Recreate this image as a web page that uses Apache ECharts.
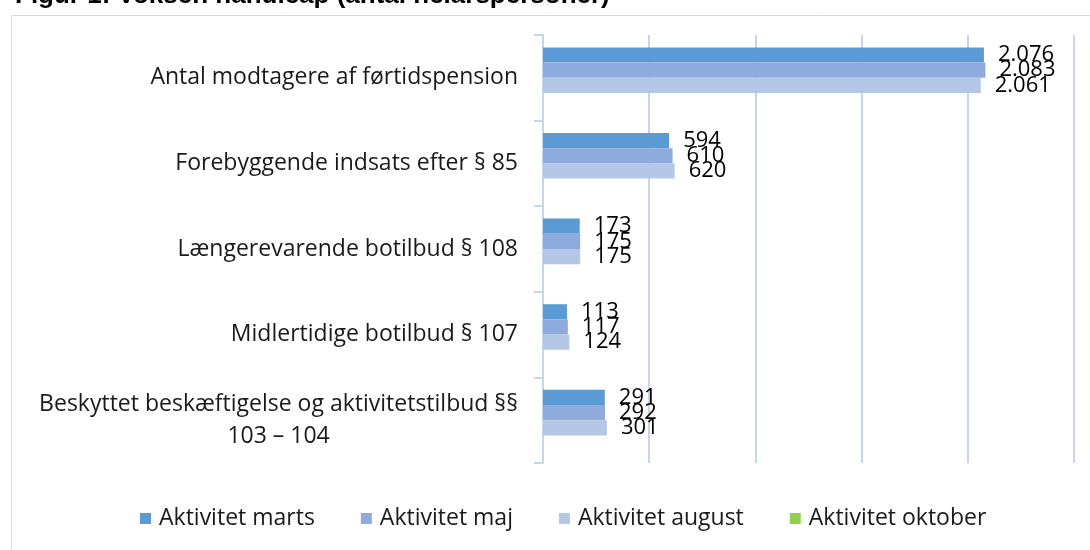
<!DOCTYPE html>
<html>
  <head>
      <meta charset="utf-8">
      <script src="https://cdn.jsdelivr.net/npm/echarts@6/dist/echarts.min.js"></script>
      <style>
        html, body { margin: 0; padding: 0; background: #fff; }
      </style>
  </head>
  <body>
      <div id="main" style="width: 1090px;height:550px;"></div>
      <script type="text/javascript">
          // categories, top to bottom
          var categories = [
              'Antal modtagere af førtidspension',
              'Forebyggende indsats efter § 85',
              'Længerevarende botilbud § 108',
              'Midlertidige botilbud § 107',
              'Beskyttet beskæftigelse og aktivitetstilbud §§\n103 – 104'
          ];
          var seriesNames = ['Aktivitet marts', 'Aktivitet maj', 'Aktivitet august', 'Aktivitet oktober'];
          var marts = [2076, 594, 173, 113, 291];
          var maj = [2083, 610, 175, 117, 292];
          var august = [2061, 620, 175, 124, 301];
          var oktober = ['-', '-', '-', '-', '-'];   // no data yet, but still in legend

          var colors = ['#5b9bd5', '#8faadc', '#b4c7e7', '#92d050'];
          var font = '"Open Sans", sans-serif';

          // danish thousand separator
          function fmt(v) {
              return String(v).replace(/\B(?=(\d{3})+(?!\d))/g, '.');
          }

          var myChart = echarts.init(document.getElementById('main'));

          var labelOption = {
              show: true,
              position: 'right',
              distance: 14,
              color: '#000',
              fontFamily: font,
              fontSize: 22,
              formatter: function (p) { return fmt(p.value); }
          };

          var allData = [marts, maj, august, oktober];
          var series = seriesNames.map(function (name, i) {
              return {
                  name: name,
                  type: 'bar',
                  barGap: '0%',
                  barCategoryGap: '29%',
                  itemStyle: { color: colors[i] },
                  label: labelOption,
                  data: allData[i]
              };
          });

          var option = {
              animation: false,
              color: colors,
              title: {
                  text: 'Figur 1: Voksen handicap (antal helårspersoner)',
                  left: 10,
                  top: -22,
                  textStyle: {
                      fontFamily: '"Liberation Sans", Arial, sans-serif',
                      fontWeight: 'bold',
                      fontSize: 26,
                      color: '#000'
                  }
              },
              graphic: [{
                  type: 'rect',
                  left: 9,
                  top: 13,
                  shape: { width: 1100, height: 600 },
                  style: { fill: 'none', stroke: '#d9d9d9', lineWidth: 1 },
                  silent: true,
                  z: -1
              }],
              legend: {
                  data: seriesNames,
                  left: 135,
                  top: 502,
                  icon: 'rect',
                  itemWidth: 11,
                  itemHeight: 11,
                  itemGap: 46,
                  textStyle: { fontFamily: font, fontSize: 23, color: '#1a1a1a', padding: [0, 0, 0, 3] }
              },
              grid: {
                  left: 543,
                  right: 16,
                  top: 35,
                  bottom: 87
              },
              xAxis: {
                  type: 'value',
                  min: 0,
                  max: 2500,
                  interval: 500,
                  axisLabel: { show: false },
                  axisLine: { show: false },
                  axisTick: { show: false },
                  splitLine: { lineStyle: { color: '#c5d5ea', width: 2 } }
              },
              yAxis: {
                  type: 'category',
                  inverse: true,
                  data: categories,
                  axisLine: { show: true, lineStyle: { color: '#c5d5ea', width: 2 } },
                  axisTick: { show: true, length: 9, lineStyle: { color: '#c5d5ea', width: 2 } },
                  axisLabel: {
                      margin: 25,
                      color: '#1a1a1a',
                      fontFamily: font,
                      fontSize: 23,
                      lineHeight: 32,
                      formatter: function (v) {
                          return v.split('\n').map(function (s) { return '{c|' + s + '}'; }).join('\n');
                      },
                      rich: {
                          c: { align: 'center', fontFamily: font, fontSize: 23, lineHeight: 32, color: '#1a1a1a' }
                      }
                  }
              },
              series: series
          };

          myChart.setOption(option);
      </script>
  </body>
</html>
